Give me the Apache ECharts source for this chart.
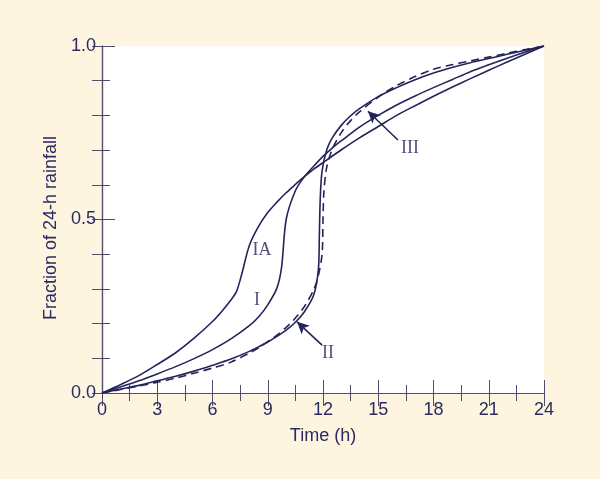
<!DOCTYPE html>
<html>
<head>
<meta charset="utf-8">
<script src="https://cdn.jsdelivr.net/npm/echarts@6/dist/echarts.min.js"></script>
<style>
html,body{margin:0;padding:0;background:#fef5e1;}
#c{width:600px;height:479px;}
</style>
</head>
<body>
<div id="c"></div>
<script>
// Time (h) and cumulative fraction of 24-h rainfall for each storm type
const typeIA_t = [0, 1, 2, 3, 4, 5, 6, 6.5, 7, 7.3, 7.6, 8, 8.5, 9, 9.5, 10, 10.5, 11, 11.5, 12, 13, 14, 15, 16, 17, 18, 19, 20, 21, 22, 23, 24];
const typeIA_v = [0, 0.024, 0.050, 0.082, 0.116, 0.158, 0.206, 0.235, 0.268, 0.292, 0.345, 0.425, 0.480, 0.520, 0.550, 0.577, 0.601, 0.624, 0.645, 0.664, 0.701, 0.736, 0.768, 0.800, 0.828, 0.855, 0.881, 0.906, 0.930, 0.954, 0.977, 1.0];
const typeI_t = [0, 1, 2, 3, 4, 5, 6, 7, 8, 8.5, 9, 9.5, 9.75, 10, 10.5, 11, 11.5, 12, 12.5, 13, 14, 15, 16, 17, 18, 19, 20, 21, 22, 23, 24];
const typeI_v = [0, 0.017, 0.035, 0.055, 0.076, 0.099, 0.125, 0.156, 0.194, 0.219, 0.254, 0.303, 0.362, 0.500, 0.583, 0.624, 0.654, 0.682, 0.706, 0.727, 0.767, 0.800, 0.830, 0.856, 0.880, 0.903, 0.926, 0.946, 0.965, 0.983, 1.0];
const typeII_t = [0, 1, 2, 3, 4, 5, 6, 7, 8, 8.5, 9, 9.5, 10, 10.5, 11, 11.5, 11.75, 11.8, 11.85, 11.95, 12.2, 12.5, 13, 13.5, 14, 15, 16, 17, 18, 19, 20, 21, 22, 23, 24];
const typeII_v = [0, 0.011, 0.022, 0.035, 0.048, 0.063, 0.080, 0.098, 0.120, 0.133, 0.147, 0.163, 0.181, 0.204, 0.235, 0.283, 0.357, 0.450, 0.560, 0.640, 0.700, 0.735, 0.772, 0.799, 0.820, 0.854, 0.880, 0.903, 0.922, 0.938, 0.952, 0.964, 0.976, 0.988, 1.0];
const typeIII_t = [0, 1, 2, 3, 4, 5, 6, 7, 8, 8.5, 9, 9.5, 10, 10.5, 11, 11.5, 11.75, 11.95, 12, 12.05, 12.2, 12.5, 13, 13.5, 14, 15, 16, 17, 18, 19, 20, 21, 22, 23, 24];
const typeIII_v = [0, 0.010, 0.020, 0.031, 0.043, 0.057, 0.072, 0.089, 0.115, 0.130, 0.148, 0.167, 0.189, 0.216, 0.250, 0.298, 0.339, 0.400, 0.500, 0.580, 0.650, 0.702, 0.751, 0.785, 0.811, 0.853, 0.886, 0.912, 0.933, 0.946, 0.957, 0.968, 0.979, 0.990, 1.0];

// Curve labels [name, time, fraction]
const curveLabels = [["IA", 8.69, 0.412], ["I", 8.42, 0.268], ["II", 12.27, 0.115], ["III", 16.72, 0.706]];
// Arrows [tailT, tailF, headT, headF]
const arrows = [[11.95, 0.138, 10.59, 0.205], [16.07, 0.729, 14.44, 0.812]];

const xTicks = [0, 3, 6, 9, 12, 15, 18, 21, 24];
const yTickLabels = ["0.0", "0.5", "1.0"];

const navy = '#24245a';
const frame = '#4e4e6c';
const txt = '#2b2b62';
const sans = 'Liberation Sans, Arial, sans-serif';

function pairs(t, v) { return t.map((x, i) => [x, v[i]]); }

const chart = echarts.init(document.getElementById('c'));

function xCommon(show, tickLen, minorLen) {
  return {
    type: 'value', min: 0, max: 24, interval: 3,
    axisLine: { show: true, lineStyle: { color: frame, width: 1.2 } },
    axisTick: { show: true, inside: true, length: tickLen, lineStyle: { color: frame, width: 1 } },
    minorTick: { show: true, splitNumber: 2, length: minorLen, lineStyle: { color: frame, width: 1 } },
    splitLine: { show: false },
    axisLabel: { show: show, color: txt, fontSize: 18, fontFamily: sans, margin: 8,
      formatter: v => xTicks.includes(v) ? String(v) : '' }
  };
}
function yCommon(show, tickLen, minorLen) {
  return {
    type: 'value', min: 0, max: 1, interval: 0.5,
    axisLine: { show: true, lineStyle: { color: frame, width: 1.2 } },
    axisTick: { show: true, inside: true, length: tickLen, lineStyle: { color: frame, width: 1 } },
    minorTick: { show: true, splitNumber: 5, length: minorLen, lineStyle: { color: frame, width: 1 } },
    splitLine: { show: false },
    axisLabel: { show: show, color: txt, fontSize: 18, fontFamily: sans, margin: 6,
      formatter: v => yTickLabels[Math.round(v * 2)] }
  };
}

const lineBase = { type: 'line', showSymbol: false, symbol: 'none', smooth: 0.3, silent: true, z: 3 };

const option = {
  backgroundColor: '#fef5e1',
  animation: false,
  grid: { left: 102, right: 56, top: 46, bottom: 86, show: true, backgroundColor: '#ffffff', borderWidth: 0 },
  xAxis: [
    Object.assign(xCommon(true, 13, 8), { position: 'bottom', name: 'Time (h)', nameLocation: 'middle', nameGap: 34,
      nameTextStyle: { color: txt, fontSize: 18, fontFamily: sans } }),
    Object.assign(xCommon(false, 13, 8), { position: 'top' })
  ],
  yAxis: [
    Object.assign(yCommon(true, 13, 8), { position: 'left', name: 'Fraction of 24-h rainfall', nameLocation: 'middle', nameGap: 32,
      nameTextStyle: { color: txt, fontSize: 18, fontFamily: sans, padding: [0, 17, 0, 0] } }),
    Object.assign(yCommon(false, 10, 10), { position: 'right' })
  ],
  series: [
    Object.assign({}, lineBase, { name: 'IA', data: pairs(typeIA_t, typeIA_v), lineStyle: { color: navy, width: 1.6 } }),
    Object.assign({}, lineBase, { name: 'I', data: pairs(typeI_t, typeI_v), lineStyle: { color: navy, width: 1.6 } }),
    Object.assign({}, lineBase, { name: 'II', data: pairs(typeII_t, typeII_v), lineStyle: { color: navy, width: 1.6 } }),
    Object.assign({}, lineBase, { name: 'III', data: pairs(typeIII_t, typeIII_v), lineStyle: { color: navy, width: 1.6, type: [8, 5] } }),
    {
      type: 'scatter', silent: true, symbolSize: 0, z: 5,
      data: curveLabels.map(l => ({ value: [l[1], l[2]], name: l[0] })),
      label: { show: true, position: 'inside', formatter: p => p.name, color: navy, fontSize: 18,
        fontFamily: 'Liberation Serif, Times New Roman, serif' },
      markLine: {
        silent: true, symbol: ['none', 'arrow'], symbolSize: [9, 12],
        label: { show: false },
        lineStyle: { color: navy, width: 1.6, type: 'solid' },
        data: arrows.map(a => [{ coord: [a[0], a[1]] }, { coord: [a[2], a[3]] }])
      }
    }
  ]
};
chart.setOption(option);
</script>
</body>
</html>
